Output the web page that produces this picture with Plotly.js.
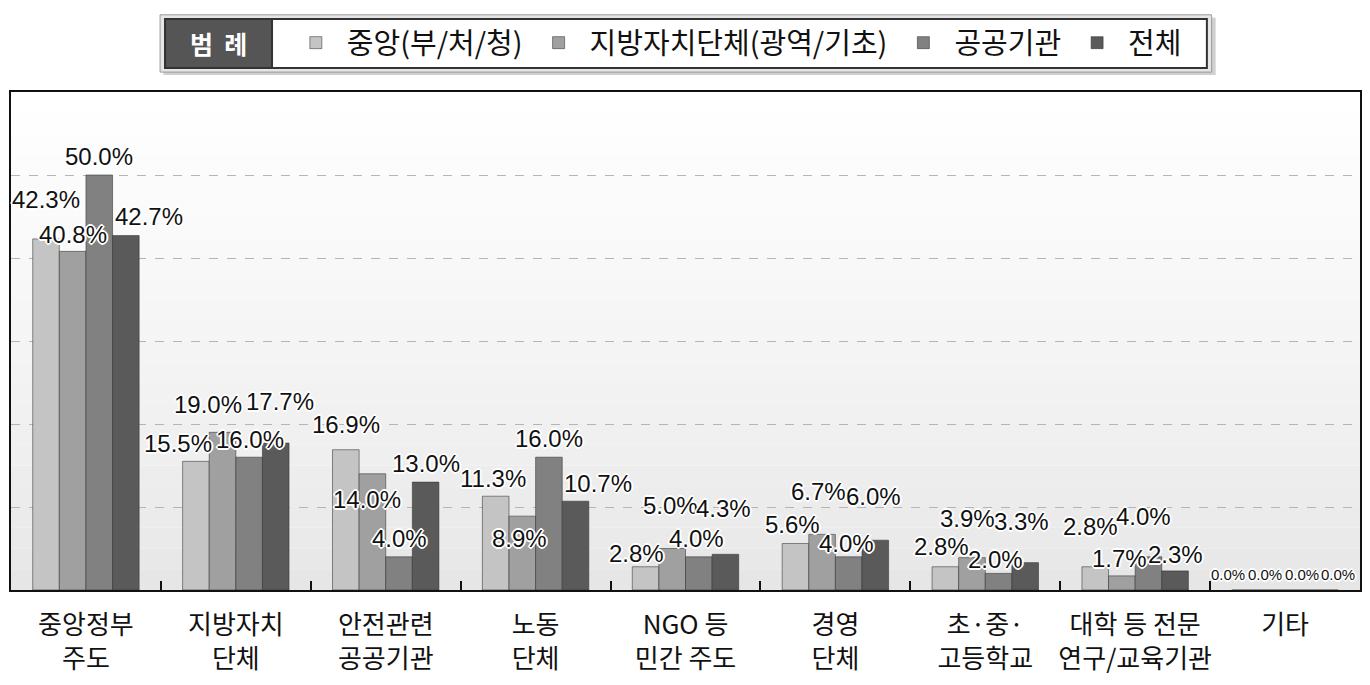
<!DOCTYPE html>
<html><head><meta charset="utf-8">
<script src="https://cdn.plot.ly/plotly-3.0.1.min.js"></script>
<style>html,body{margin:0;padding:0;background:#fff}#chart{width:1370px;height:685px}</style>
</head><body><div id="chart"></div>
<script>
// ---- data ----
const categories = ["중앙정부<br>주도","지방자치<br>단체","안전관련<br>공공기관","노동<br>단체","NGO 등<br>민간 주도","경영<br>단체","초·중·<br>고등학교","대학 등 전문<br>연구/교육기관","기타"];
const seriesNames = ["중앙(부/처/청)","지방자치단체(광역/기초)","공공기관","전체"];
const central  = [42.3,15.5,16.9,11.3,2.8,5.6,2.8,2.8,0.0];
const local    = [40.8,19.0,14.0,8.9,5.0,6.7,3.9,1.7,0.0];
const publicOrg= [50.0,16.0,4.0,16.0,4.0,4.0,2.0,4.0,0.0];
const total    = [42.7,17.7,13.0,10.7,4.3,6.0,3.3,2.3,0.0];

// ---- styles / label placement (pixel offsets of value labels from the bar top centre) ----
const labelDx = [
  [0,-18,0,-3,-9,-3,-4,-5,-17],
  [0,-15,-5,-3,-2,-4,-4,-2,-7],
  [0,1,0,0,-2,-2,-3,-5,4],
  [23,4,0,22,-2,-2,-4,0,13]
];
const labelGap = [
  [31,9,17,9,5,11,12,32,10],
  [8,19,-34,-31,35,34,31,9,10],
  [10,9,10,10,10,5,5,32,10],
  [11,33,10,9,37,35,33,8,10]
];
const colors = ["#c4c4c4","#a0a0a0","#818181","#5a5a5a"];
const seriesValues = [central, local, publicOrg, total];
const labelFont = '"Liberation Sans","Arial",sans-serif';
const korFont = '"Noto Sans CJK KR","Noto Sans",sans-serif';
const outline = "1px 1px 0 #fff, -1px -1px 0 #fff, 1px -1px 0 #fff, -1px 1px 0 #fff, 2px 0 0 #fff, -2px 0 0 #fff, 0 2px 0 #fff, 0 -2px 0 #fff";

const W = 1370, H = 685, M = {l: 11, r: 10, t: 92, b: 95};
const bargap = 0.29;
const plotW = W - M.l - M.r;
const barPx = plotW / categories.length * (1 - bargap) / seriesNames.length;

const traces = seriesValues.map((vals, i) => ({
  type: "bar",
  name: seriesNames[i],
  x: categories,
  y: vals,
  marker: {color: colors[i], line: {color: "rgba(50,50,50,0.55)", width: 1}},
  hoverinfo: "x+y"
}));

const annotations = [];
seriesValues.forEach((vals, j) => {
  vals.forEach((v, i) => {
    const zero = v === 0;
    annotations.push({
      xref: "x", yref: "y", x: categories[i], y: v,
      xanchor: "center", yanchor: "bottom",
      xshift: (j - 1.5) * barPx + labelDx[j][i],
      yshift: labelGap[j][i] - (zero ? 4 : 6),
      text: v.toFixed(1) + "%", showarrow: false, borderpad: 0,
      font: {family: labelFont, size: zero ? 15 : 24, color: "#111", shadow: outline}
    });
  });
});
annotations.push({
  xref: "paper", yref: "paper", x: 0.1538, y: 1.0974, xanchor: "center", yanchor: "middle",
  text: "<b>범  례</b>", showarrow: false,
  font: {size: 25, color: "#ffffff", family: korFont}
});

// background gradient bands + legend frame
const shapes = [];
const nb = 24;
for (let k = 0; k < nb; k++) {
  const t = k / (nb - 1);
  const c = Math.round(230 + (255 - 230) * Math.pow(t, 0.8));
  shapes.push({type: "rect", xref: "paper", yref: "paper", x0: 0, x1: 1, y0: k / nb, y1: (k + 1) / nb,
    fillcolor: `rgb(${c},${c},${c})`, line: {width: 0}, layer: "below"});
}
shapes.push({type: "rect", xref: "paper", yref: "paper", x0: 0.113, x1: 0.893, y0: 1.034, y1: 1.149,
  fillcolor: "#d0d0d0", line: {width: 0}, layer: "above"});
shapes.push({type: "rect", xref: "paper", yref: "paper", x0: 0.1105, x1: 0.890, y0: 1.040, y1: 1.155,
  fillcolor: "#e6e6e6", line: {color: "#9a9a9a", width: 1}, layer: "above"});
shapes.push({type: "rect", xref: "paper", yref: "paper", x0: 0.1142, x1: 0.8865, y0: 1.0482, y1: 1.1466,
  fillcolor: "#ffffff", line: {color: "#333", width: 2}, layer: "above"});
shapes.push({type: "rect", xref: "paper", yref: "paper", x0: 0.1142, x1: 0.1935, y0: 1.0482, y1: 1.1466,
  fillcolor: "#555555", line: {color: "#333", width: 2}, layer: "above"});

const layout = {
  width: W, height: H,
  margin: M,
  paper_bgcolor: "#ffffff",
  plot_bgcolor: "rgba(0,0,0,0)",
  barmode: "group",
  bargap: bargap,
  bargroupgap: 0,
  font: {family: korFont, color: "#111"},
  xaxis: {
    type: "category", tickangle: 0,
    showline: true, linecolor: "#111", linewidth: 2, mirror: true,
    ticks: "inside", tickson: "boundaries", ticklen: 9, tickwidth: 2, tickcolor: "#111",
    tickfont: {size: 26, family: korFont, color: "#111"},
    ticklabelstandoff: 11,
    fixedrange: true
  },
  yaxis: {
    range: [0, 60], dtick: 10,
    showticklabels: false, ticks: "",
    showgrid: true, gridcolor: "#b5b5b5", griddash: "dash", gridwidth: 1,
    showline: true, linecolor: "#111", linewidth: 2, mirror: true,
    zeroline: false, fixedrange: true
  },
  showlegend: true,
  legend: {
    orientation: "h", x: 0.203, xanchor: "left", y: 1.15, yanchor: "top",
    bgcolor: "rgba(0,0,0,0)", borderwidth: 0,
    font: {size: 29, family: korFont, color: "#111"},
    itemwidth: 52, traceorder: "normal"
  },
  shapes: shapes,
  annotations: annotations
};

Plotly.newPlot("chart", traces, layout, {displayModeBar: false, staticPlot: true});
</script></body></html>
